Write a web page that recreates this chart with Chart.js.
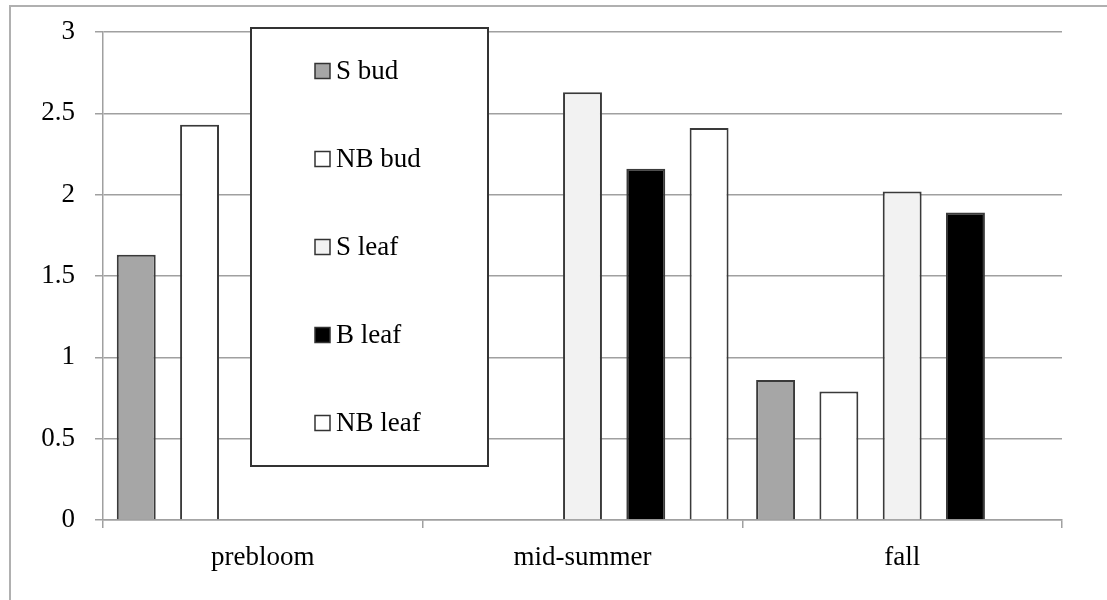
<!DOCTYPE html>
<html>
<head>
<meta charset="utf-8">
<script src="https://cdn.jsdelivr.net/npm/chart.js@4.4.0/dist/chart.umd.min.js"></script>
<style>
html,body{margin:0;padding:0;background:#fff;}
#wrap{width:1107px;height:600px;position:relative;}
</style>
</head>
<body>
<div id="wrap"><canvas id="c" width="1107" height="600"></canvas></div>
<script>
const categories = ["prebloom", "mid-summer", "fall"];
const seriesNames = ["S bud", "NB bud", "S leaf", "B leaf", "NB leaf"];
const sBud   = [1.63, null, 0.86];
const nbBud  = [2.43, null, 0.79];
const sLeaf  = [null, 2.63, 2.02];
const bLeaf  = [null, 2.16, 1.89];
const nbLeaf = [null, 2.41, null];
const yTicks = [0, 0.5, 1, 1.5, 2, 2.5, 3];

const fills = ["#a6a6a6", "#ffffff", "#f2f2f2", "#000000", "#ffffff"];
const seriesData = [sBud, nbBud, sLeaf, bLeaf, nbLeaf];
const FONT = "'Liberation Serif', 'Times New Roman', serif";

const frame = {
  id: 'frame',
  beforeDraw(chart) {
    const ctx = chart.ctx;
    ctx.save();
    ctx.fillStyle = '#fff';
    ctx.fillRect(0, 0, chart.width, chart.height);
    ctx.strokeStyle = '#b0b0b0';
    ctx.lineWidth = 2;
    ctx.strokeRect(10, 6, 1200, 700);
    ctx.restore();
  }
};

const boxLegend = {
  id: 'boxLegend',
  afterDatasetsDraw(chart) {
    const ctx = chart.ctx;
    ctx.save();
    ctx.fillStyle = '#fff';
    ctx.fillRect(251, 28, 237, 438);
    ctx.strokeStyle = '#333';
    ctx.lineWidth = 2;
    ctx.strokeRect(251, 28, 237, 438);
    const ys = [71, 159, 247, 335, 423];
    ctx.font = "27px " + FONT;
    ctx.textBaseline = 'middle';
    ctx.textAlign = 'left';
    seriesNames.forEach((n, i) => {
      ctx.fillStyle = fills[i];
      ctx.fillRect(315, ys[i] - 7.5, 15, 15);
      ctx.strokeStyle = '#333';
      ctx.lineWidth = 1.5;
      ctx.strokeRect(315, ys[i] - 7.5, 15, 15);
      ctx.fillStyle = '#000';
      ctx.fillText(n, 336, ys[i] + 1);
    });
    ctx.restore();
  }
};

new Chart(document.getElementById('c'), {
  type: 'bar',
  data: {
    labels: categories,
    datasets: seriesNames.map((n, i) => ({
      label: n,
      data: seriesData[i],
      backgroundColor: fills[i],
      borderColor: '#3a3a3a',
      borderWidth: 2,
      borderSkipped: 'start',
      categoryPercentage: 0.99,
      barPercentage: 0.615
    }))
  },
  options: {
    responsive: false,
    animation: false,
    devicePixelRatio: 1,
    layout: { padding: { top: 32, right: 45, left: 0, bottom: 0 } },
    plugins: { legend: { display: false }, tooltip: { enabled: false } },
    scales: {
      x: {
        afterFit(s) { s.height = 80; s.paddingLeft = 0; s.paddingRight = 0; },
        grid: { offset: true, drawOnChartArea: false, drawTicks: true, tickLength: 8, color: '#a0a0a0', lineWidth: 1.5 },
        border: { color: '#a0a0a0', width: 1.5 },
        ticks: { color: '#000', font: { family: FONT, size: 27 }, padding: 14, maxRotation: 0 }
      },
      y: {
        min: 0, max: 3,
        afterFit(s) { s.width = 103; s.paddingTop = 0; s.paddingBottom = 0; },
        afterBuildTicks(s) { s.ticks = yTicks.map(v => ({ value: v })); },
        grid: { color: '#a0a0a0', lineWidth: 1.5, tickLength: 8 },
        border: { color: '#a0a0a0', width: 1.5 },
        ticks: { color: '#000', font: { family: FONT, size: 27 }, padding: 20, callback: v => String(v) }
      }
    }
  },
  plugins: [frame, boxLegend]
});
</script>
</body>
</html>
